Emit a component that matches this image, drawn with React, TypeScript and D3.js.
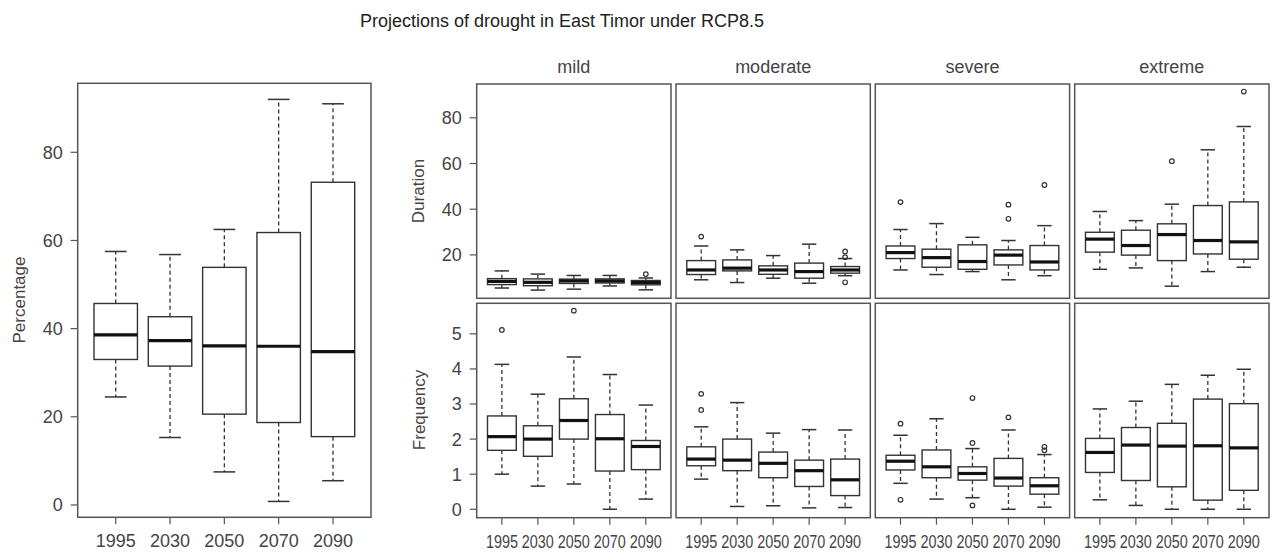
import React from "react";
import * as d3 from "d3";

const years = ["1995", "2030", "2050", "2070", "2090"];
const severities = ["mild", "moderate", "severe", "extreme"];
const percentTicks = [0, 20, 40, 60, 80];
const durationTicks = [20, 40, 60, 80];
const frequencyTicks = [0, 1, 2, 3, 4, 5];

// each row: [lower whisker, Q1, median, Q3, upper whisker]
const percentageStats = [
  [24.5, 33.0, 38.6, 45.7, 57.5],
  [15.3, 31.5, 37.3, 42.7, 56.8],
  [7.5, 20.6, 36.1, 53.9, 62.5],
  [0.8, 18.7, 36.0, 61.8, 92.0],
  [5.5, 15.5, 34.8, 73.2, 91.0],
];
const percentageOutliers: number[][] = [[], [], [], [], []];

const durationMild = [
  [5.5, 7.0, 8.4, 9.6, 13.0],
  [4.6, 6.5, 8.0, 9.5, 11.6],
  [5.0, 7.5, 8.6, 9.4, 11.0],
  [6.4, 7.7, 8.6, 9.5, 11.0],
  [4.7, 6.9, 7.9, 8.8, 9.9],
];
const durationMildOut = [[], [], [], [], [11.6]];
const durationModerate = [
  [9.1, 11.4, 13.4, 17.5, 23.9],
  [7.9, 13.0, 14.2, 17.8, 22.2],
  [9.8, 11.5, 13.4, 15.2, 19.7],
  [7.6, 9.8, 12.7, 16.4, 24.7],
  [10.9, 12.0, 13.4, 14.9, 18.4],
];
const durationModerateOut = [[28.0], [], [], [], [21.5, 19.0, 8.0]];
const durationSevere = [
  [13.4, 18.4, 21.0, 23.9, 31.1],
  [11.4, 14.6, 18.8, 22.5, 33.7],
  [12.7, 13.7, 17.1, 24.4, 27.7],
  [9.1, 15.6, 19.9, 22.2, 26.3],
  [10.9, 13.4, 16.9, 24.1, 32.8],
];
const durationSevereOut = [[43.1], [], [], [42.0, 35.8], [50.6]];
const durationExtreme = [
  [13.7, 21.2, 26.9, 29.9, 39.0],
  [14.3, 19.9, 24.1, 30.8, 35.0],
  [6.3, 17.5, 28.9, 33.6, 42.2],
  [12.7, 20.4, 26.3, 41.6, 66.0],
  [14.6, 18.1, 25.7, 43.2, 76.2],
];
const durationExtremeOut = [[], [], [61.0], [], [91.5]];

const frequencyMild = [
  [1.0, 1.68, 2.07, 2.66, 4.13],
  [0.66, 1.51, 2.0, 2.38, 3.28],
  [0.72, 2.0, 2.53, 3.15, 4.34],
  [0.0, 1.09, 2.01, 2.7, 3.84],
  [0.29, 1.13, 1.79, 1.96, 2.97],
];
const frequencyMildOut = [[5.11], [], [5.66], [], []];
const frequencyModerate = [
  [0.86, 1.24, 1.43, 1.78, 2.35],
  [0.08, 1.1, 1.4, 2.0, 3.04],
  [0.1, 0.9, 1.31, 1.63, 2.17],
  [0.04, 0.65, 1.1, 1.4, 2.27],
  [0.05, 0.39, 0.84, 1.43, 2.26],
];
const frequencyModerateOut = [[3.29, 2.83], [], [], [], []];
const frequencySevere = [
  [0.74, 1.12, 1.37, 1.54, 2.11],
  [0.29, 0.9, 1.21, 1.69, 2.58],
  [0.33, 0.83, 1.02, 1.21, 1.73],
  [0.0, 0.66, 0.89, 1.45, 2.26],
  [0.06, 0.43, 0.67, 0.9, 1.56],
];
const frequencySevereOut = [[2.44, 0.27], [], [3.17, 1.89, 0.11], [2.62], [1.78, 1.68]];
const frequencyExtreme = [
  [0.27, 1.05, 1.62, 2.02, 2.86],
  [0.11, 0.82, 1.83, 2.33, 3.08],
  [0.0, 0.64, 1.8, 2.45, 3.56],
  [0.0, 0.26, 1.81, 3.14, 3.82],
  [0.0, 0.54, 1.75, 3.01, 3.99],
];
const frequencyExtremeOut: number[][] = [[], [], [], [], []];

const durationSets = [durationMild, durationModerate, durationSevere, durationExtreme];
const durationOuts = [durationMildOut, durationModerateOut, durationSevereOut, durationExtremeOut];
const frequencySets = [frequencyMild, frequencyModerate, frequencySevere, frequencyExtreme];
const frequencyOuts = [frequencyMildOut, frequencyModerateOut, frequencySevereOut, frequencyExtremeOut];

const FONT = "'Liberation Sans', Arial, Helvetica, sans-serif";
const TXT = "#444";
const LINE = "#333";

type PanelProps = {
  left: number;
  right: number;
  top: number;
  bottom: number;
  yDomain: [number, number];
  stats: number[][];
  outliers: number[][];
  yTicks?: number[];
  xLabels?: boolean;
  xLabelScale?: number;
  xFont?: number;
};

function BoxPanel(p: PanelProps) {
  const x = d3.scaleLinear().domain([0.3, 5.7]).range([p.left, p.right]);
  const y = d3.scaleLinear().domain(p.yDomain).range([p.bottom, p.top]);
  const bw = x(1.4) - x(1);
  const cap = bw / 2;
  return (
    <g>
      {p.stats.map((s, i) => {
        const cx = x(i + 1);
        const [lo, q1, med, q3, hi] = s;
        return (
          <g key={i}>
            <line x1={cx} x2={cx} y1={y(q3)} y2={y(hi)} stroke={LINE} strokeWidth={1.3} strokeDasharray="4,3" />
            <line x1={cx} x2={cx} y1={y(q1)} y2={y(lo)} stroke={LINE} strokeWidth={1.3} strokeDasharray="4,3" />
            <line x1={cx - cap} x2={cx + cap} y1={y(hi)} y2={y(hi)} stroke={LINE} strokeWidth={1.5} />
            <line x1={cx - cap} x2={cx + cap} y1={y(lo)} y2={y(lo)} stroke={LINE} strokeWidth={1.5} />
            <rect x={cx - bw} y={y(q3)} width={bw * 2} height={y(q1) - y(q3)} fill="#fff" stroke={LINE} strokeWidth={1.4} />
            <line x1={cx - bw} x2={cx + bw} y1={y(med)} y2={y(med)} stroke="#111" strokeWidth={3.2} />
            {p.outliers[i].map((o, j) => (
              <circle key={j} cx={cx} cy={y(o)} r={2.3} fill="none" stroke={LINE} strokeWidth={1.2} />
            ))}
          </g>
        );
      })}
      <rect x={p.left} y={p.top} width={p.right - p.left} height={p.bottom - p.top} fill="none" stroke="#555" strokeWidth={1.5} />
      {p.yTicks &&
        p.yTicks.map((t) => (
          <g key={t}>
            <line x1={p.left - 7} x2={p.left} y1={y(t)} y2={y(t)} stroke="#555" strokeWidth={1.2} />
            <text x={p.left - 15} y={y(t)} dy="0.36em" textAnchor="end" fontSize={18} fill={TXT} fontFamily={FONT}>
              {t}
            </text>
          </g>
        ))}
      {p.xLabels &&
        years.map((yr, i) => (
          <g key={yr}>
            <line x1={x(i + 1)} x2={x(i + 1)} y1={p.bottom} y2={p.bottom + 7} stroke="#555" strokeWidth={1.2} />
            <text
              transform={`translate(${x(i + 1)},${p.bottom + 30}) scale(${p.xLabelScale ?? 1},1)`}
              textAnchor="middle"
              fontSize={p.xFont ?? 18}
              fill={TXT}
              fontFamily={FONT}
            >
              {yr}
            </text>
          </g>
        ))}
    </g>
  );
}

export default function App() {
  const W = 1279;
  const H = 552;
  const panelLefts = [476.7, 676, 875.3, 1074.7];
  const pw = 194.3;
  const topRow = { top: 84, bottom: 298.3 };
  const botRow = { top: 303.3, bottom: 517.7 };
  return (
    <svg width={W} height={H} style={{ position: "absolute", left: 0, top: 0, background: "#fff" }}>
      <text x={562} y={27} textAnchor="middle" fontSize={18} fill="#222" fontFamily={FONT}>
        Projections of drought in East Timor under RCP8.5
      </text>
      <BoxPanel
        left={77.7}
        right={371}
        top={83.3}
        bottom={517.3}
        yDomain={[-2.8, 95.65]}
        stats={percentageStats}
        outliers={percentageOutliers}
        yTicks={percentTicks}
        xLabels
      />
      <text transform="translate(25,300) rotate(-90)" textAnchor="middle" fontSize={17} fill={TXT} fontFamily={FONT}>
        Percentage
      </text>
      {severities.map((sv, k) => (
        <g key={sv}>
          <text x={panelLefts[k] + pw / 2} y={73} textAnchor="middle" fontSize={18} fill={TXT} fontFamily={FONT}>
            {sv}
          </text>
          <BoxPanel
            left={panelLefts[k]}
            right={panelLefts[k] + pw}
            top={topRow.top}
            bottom={topRow.bottom}
            yDomain={[1.0, 94.8]}
            stats={durationSets[k]}
            outliers={durationOuts[k]}
            yTicks={k === 0 ? durationTicks : undefined}
          />
          <BoxPanel
            left={panelLefts[k]}
            right={panelLefts[k] + pw}
            top={botRow.top}
            bottom={botRow.bottom}
            yDomain={[-0.24, 5.87]}
            stats={frequencySets[k]}
            outliers={frequencyOuts[k]}
            yTicks={k === 0 ? frequencyTicks : undefined}
            xLabels
            xLabelScale={0.8}
            xFont={18}
          />
        </g>
      ))}
      <text transform="translate(424,191) rotate(-90)" textAnchor="middle" fontSize={17} fill={TXT} fontFamily={FONT}>
        Duration
      </text>
      <text transform="translate(425,410) rotate(-90)" textAnchor="middle" fontSize={17} fill={TXT} fontFamily={FONT}>
        Frequency
      </text>
    </svg>
  );
}
